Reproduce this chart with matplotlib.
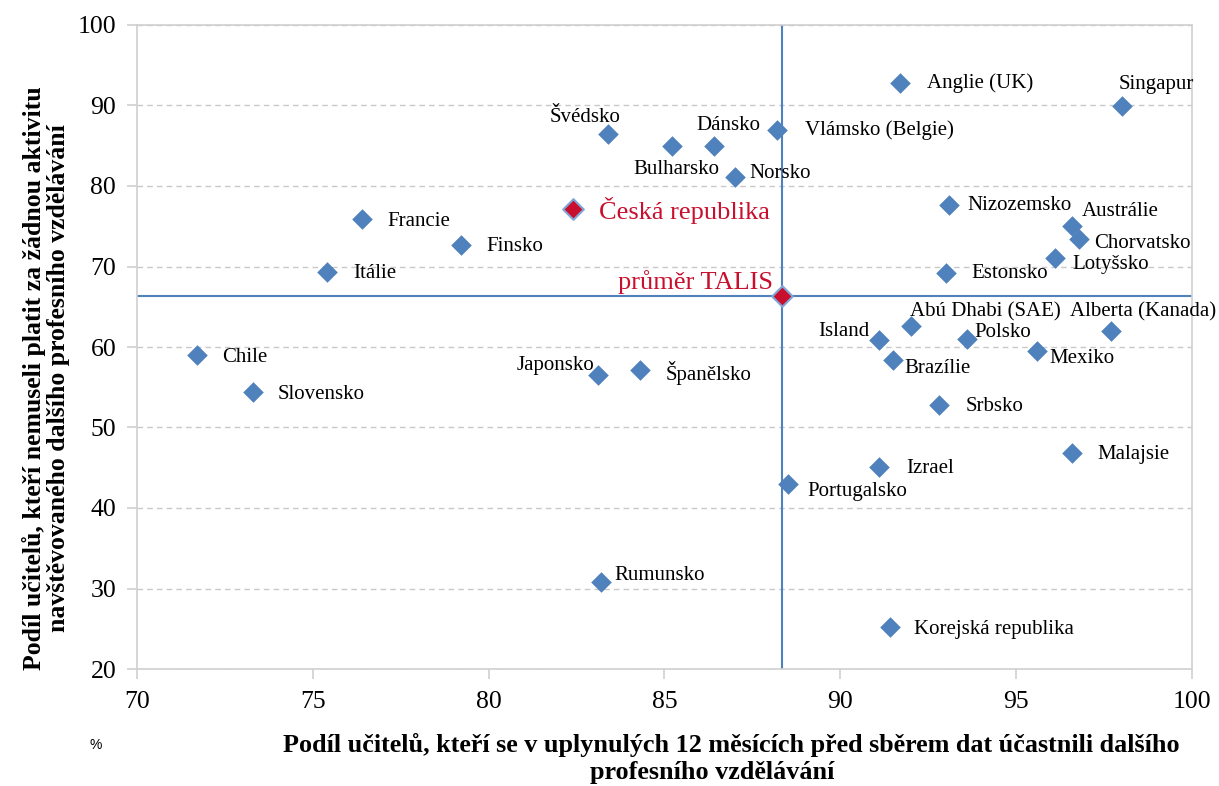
import matplotlib.pyplot as plt

# data: x = podil ucitelu s DPV, y = podil bez platby
countries = ["Anglie (UK)", "Singapur", "Švédsko", "Bulharsko", "Dánsko",
             "Vlámsko (Belgie)", "Norsko", "Francie", "Finsko", "Itálie",
             "Nizozemsko", "Austrálie", "Chorvatsko", "Lotyšsko", "Estonsko",
             "Abú Dhabi (SAE)", "Island", "Polsko", "Alberta (Kanada)", "Mexiko",
             "Brazílie", "Chile", "Slovensko", "Japonsko", "Španělsko",
             "Srbsko", "Malajsie", "Izrael", "Portugalsko", "Rumunsko",
             "Korejská republika"]
x_vals = [91.7, 98.0, 83.4, 85.2, 86.4, 88.2, 87.0, 76.4, 79.2, 75.4,
          93.1, 96.6, 96.8, 96.1, 93.0, 92.0, 91.1, 93.6, 97.7, 95.6,
          91.5, 71.7, 73.3, 83.1, 84.3, 92.8, 96.6, 91.1, 88.5, 83.2,
          91.4]
y_vals = [92.8, 89.9, 86.5, 85.0, 85.0, 87.0, 81.1, 75.9, 72.7, 69.3,
          77.6, 75.0, 73.4, 71.1, 69.2, 62.6, 60.9, 61.0, 62.0, 59.5,
          58.4, 59.0, 54.4, 56.5, 57.1, 52.8, 46.8, 45.1, 43.0, 30.8,
          25.2]

cz_name = "Česká republika"
cz_x, cz_y = 82.4, 77.2
talis_name = "průměr TALIS"
talis_x, talis_y = 88.35, 66.3

# label offsets in pixels (dx, dy, ha)
offsets = {
    "Anglie (UK)": (27, 0, "left"), "Singapur": (-3, 22, "left"),
    "Švédsko": (-23, 16, "center"), "Bulharsko": (-38, -24, "left"),
    "Dánsko": (-17, 20, "left"), "Vlámsko (Belgie)": (28, 0, "left"),
    "Norsko": (15, 4, "left"), "Francie": (25, -2, "left"),
    "Finsko": (26, -2, "left"), "Itálie": (26, -1, "left"),
    "Nizozemsko": (18, 0, "left"), "Austrálie": (9, 15, "left"),
    "Chorvatsko": (15, -4, "left"), "Lotyšsko": (18, -7, "left"),
    "Estonsko": (26, -1, "left"), "Abú Dhabi (SAE)": (-1, 14, "left"),
    "Island": (-10, 8, "right"), "Polsko": (7, 6, "left"),
    "Alberta (Kanada)": (-41, 19, "left"), "Mexiko": (12, -7, "left"),
    "Brazílie": (11, -9, "left"), "Chile": (25, -2, "left"),
    "Slovensko": (25, -2, "left"), "Japonsko": (-3, 10, "right"),
    "Španělsko": (26, -3, "left"), "Srbsko": (27, -2, "left"),
    "Malajsie": (25, -1, "left"), "Izrael": (27, -2, "left"),
    "Portugalsko": (20, -8, "left"), "Rumunsko": (13, 7, "left"),
    "Korejská republika": (24, -2, "left"),
}

blue = "#4F81BD"
red = "#C8102E"
serif = ["Liberation Serif", "DejaVu Serif"]

fig = plt.figure(figsize=(12.19, 7.86), dpi=100)
ax = fig.add_axes([137 / 1219, 1 - 669 / 786, (1192 - 137) / 1219, (669 - 25) / 786])

ax.set_xlim(70, 100)
ax.set_ylim(20, 100)
ax.set_xticks(range(70, 101, 5))
ax.set_yticks(range(20, 101, 10))
ax.yaxis.grid(True, color="#C8C8C8", linestyle=(0, (4, 3)), linewidth=1)
ax.set_axisbelow(True)
for s in ax.spines.values():
    s.set_color("#D0D0D0")
    s.set_linewidth(1.2)
ax.tick_params(colors="#D0D0D0", labelcolor="black", length=7, width=1.2)
for lab in ax.get_xticklabels() + ax.get_yticklabels():
    lab.set_fontfamily(serif)
    lab.set_fontsize(18.5)
ax.tick_params(axis="x", pad=9)
ax.tick_params(axis="y", pad=8)

# TALIS mean lines
ax.axvline(talis_x, color=blue, linewidth=1.5, zorder=2)
ax.axhline(talis_y, color=blue, linewidth=1.5, zorder=2)

ax.scatter(x_vals, y_vals, marker="D", s=110, color=blue, linewidths=0, zorder=3)
ax.scatter([cz_x, talis_x], [cz_y, talis_y], marker="D", s=110, color=red,
           edgecolors="#7FA6D6", linewidths=1.5, zorder=4)

for name, xv, yv in zip(countries, x_vals, y_vals):
    dx, dy, ha = offsets[name]
    ax.annotate(name, (xv, yv), xytext=(dx, dy), textcoords="offset pixels",
                ha=ha, va="center", fontsize=15, family=serif, zorder=5)

ax.annotate(cz_name, (cz_x, cz_y), xytext=(26, -2), textcoords="offset pixels",
            ha="left", va="center", fontsize=19, family=serif, color=red)
ax.annotate(talis_name, (talis_x, talis_y), xytext=(-9, 14), textcoords="offset pixels",
            ha="right", va="center", fontsize=19, family=serif, color=red)

# x axis title, two lines placed separately like in the original
fig.text(731 / 1219, 1 - 745 / 786,
         "Podíl učitelů, kteří se v uplynulých 12 měsících před sběrem dat účastnili dalšího",
         ha="center", va="center", fontsize=18.8, fontweight="bold", family=serif)
fig.text(712 / 1219, 1 - 773 / 786, "profesního vzdělávání",
         ha="center", va="center", fontsize=18.8, fontweight="bold", family=serif)
fig.text(46 / 1219, 1 - 378 / 786,
         "Podíl učitelů, kteří nemuseli platit za žádnou aktivitu\nnavštěvovaného dalšího profesního vzdělávání",
         ha="center", va="center", rotation=90, fontsize=18.5, fontweight="bold",
         family=serif, linespacing=1.1)
fig.text(96 / 1219, 1 - 745 / 786, "%", ha="center", va="center", fontsize=10,
         family=["Liberation Sans", "DejaVu Sans"])

fig.savefig("out.png", dpi=100)
